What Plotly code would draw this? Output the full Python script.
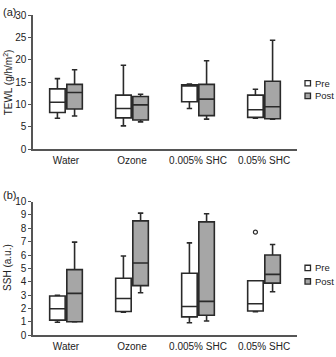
import plotly.graph_objects as go

categories = ["Water", "Ozone", "0.005% SHC", "0.05% SHC"]

# TEWL (g/h/m²): five-number summaries per treatment
tewl_pre_low = [6.9, 5.2, 9.1, 6.9]
tewl_pre_q1 = [8.2, 7.0, 10.6, 7.1]
tewl_pre_med = [10.5, 9.1, 14.3, 8.8]
tewl_pre_q3 = [13.5, 12.1, 14.4, 12.1]
tewl_pre_high = [15.8, 18.8, 14.6, 13.4]

tewl_post_low = [7.4, 6.1, 6.7, 6.7]
tewl_post_q1 = [9.0, 6.5, 7.5, 6.8]
tewl_post_med = [12.7, 9.9, 11.2, 9.5]
tewl_post_q3 = [14.5, 11.8, 14.5, 15.2]
tewl_post_high = [17.8, 12.3, 19.8, 24.4]

# SSH (a.u.)
ssh_pre_low = [0.97, 1.73, 0.94, 1.76]
ssh_pre_q1 = [1.13, 1.78, 1.37, 1.81]
ssh_pre_med = [1.98, 2.75, 2.15, 2.36]
ssh_pre_q3 = [2.94, 4.26, 4.63, 4.07]
ssh_pre_high = [2.99, 5.93, 6.91, 4.07]

ssh_post_low = [1.0, 3.18, 1.06, 3.25]
ssh_post_q1 = [1.01, 3.71, 1.50, 3.90]
ssh_post_med = [3.13, 5.40, 2.53, 4.55]
ssh_post_q3 = [4.91, 8.55, 8.48, 6.0]
ssh_post_high = [6.96, 9.13, 9.08, 6.79]

# outlier in SSH, pre, 0.05% SHC
ssh_outlier_cat = [3]
ssh_outlier_val = [7.71]

tewl_ticks = [0, 5, 10, 15, 20, 25, 30]
ssh_ticks = list(range(0, 11))

series_names = ["Pre", "Post"]

W, H = 336, 357
FONT = "Liberation Sans, Arial, sans-serif"
TXT = "#222222"
LINE = "#2a2a2a"
AXIS = "#555555"
POST_FILL = "#a6a6a6"
fills = ["white", POST_FILL]
OFF = 0.13
BW = 0.235

pos = list(range(len(categories)))

fig = go.Figure()


def add_box(name, q1, med, q3, lo, hi, shift, fill, xa, ya):
    fig.add_trace(go.Box(
        name=name,
        x=[p + shift for p in pos],
        q1=q1, median=med, q3=q3, lowerfence=lo, upperfence=hi,
        width=BW,
        fillcolor=fill,
        line=dict(color=LINE, width=1.6),
        whiskerwidth=0.35,
        boxpoints=False,
        xaxis=xa, yaxis=ya,
        showlegend=False,
        hoverinfo="skip",
    ))


add_box("Pre", tewl_pre_q1, tewl_pre_med, tewl_pre_q3, tewl_pre_low, tewl_pre_high,
        -OFF, fills[0], "x", "y")
add_box("Post", tewl_post_q1, tewl_post_med, tewl_post_q3, tewl_post_low, tewl_post_high,
        OFF, fills[1], "x", "y")
add_box("Pre", ssh_pre_q1, ssh_pre_med, ssh_pre_q3, ssh_pre_low, ssh_pre_high,
        -OFF, fills[0], "x2", "y2")
add_box("Post", ssh_post_q1, ssh_post_med, ssh_post_q3, ssh_post_low, ssh_post_high,
        OFF, fills[1], "x2", "y2")

fig.add_trace(go.Scatter(
    x=[c - OFF for c in ssh_outlier_cat], y=ssh_outlier_val,
    mode="markers",
    marker=dict(symbol="circle-open", size=4, color=LINE, line=dict(width=1.2)),
    xaxis="x2", yaxis="y2", showlegend=False, hoverinfo="skip",
))

xdom = [33 / W, 297 / W]
ydom_a = [1 - 148 / H, 1 - 9.7 / H]
ydom_b = [1 - 340.7 / H, 1 - 202.3 / H]

tick_font = dict(family=FONT, size=10, color=TXT)

xaxis_common = dict(
    domain=xdom, range=[-0.5, 3.5],
    tickvals=pos, ticktext=categories,
    showline=True, linecolor=AXIS, linewidth=1.5,
    ticks="", showgrid=False, zeroline=False,
    tickfont=tick_font, ticklabelstandoff=1,
)
yaxis_common = dict(
    showline=True, linecolor=AXIS, linewidth=1.5,
    ticks="outside", ticklen=3, tickcolor=AXIS, tickwidth=1.2,
    showgrid=False, zeroline=False, tickfont=tick_font,
)

annotations = [
    dict(text="(a)", x=1 / W, y=1 - 6 / H, xanchor="left", yanchor="middle",
         font=dict(family=FONT, size=11, color=TXT)),
    dict(text="(b)", x=1 / W, y=1 - 196 / H, xanchor="left", yanchor="middle",
         font=dict(family=FONT, size=11, color=TXT)),
    dict(text="TEWL (g/h/m<sup>2</sup>)", x=8 / W, y=1 - 79 / H,
         xanchor="center", yanchor="middle", textangle=-90,
         font=dict(family=FONT, size=10, color=TXT)),
    dict(text="SSH (a.u.)", x=8 / W, y=1 - 271 / H,
         xanchor="center", yanchor="middle", textangle=-90,
         font=dict(family=FONT, size=10, color=TXT)),
]

# legend keys: small outlined squares with the series names beside them
shapes = []
key_rows = [[80, 93], [271, 285]]
for rows in key_rows:
    for name, fill, yc in zip(series_names, fills, rows):
        shapes.append(dict(type="rect", xref="paper", yref="paper",
                           x0=305 / W, x1=310.5 / W,
                           y0=1 - (yc + 2.75) / H, y1=1 - (yc - 2.75) / H,
                           fillcolor=fill, line=dict(color=LINE, width=1.3)))
        annotations.append(dict(text=name, x=313 / W, y=1 - yc / H,
                                xanchor="left", yanchor="middle",
                                font=dict(family=FONT, size=9.5, color=TXT)))

for a in annotations:
    a.update(xref="paper", yref="paper", showarrow=False)

fig.update_layout(
    width=W, height=H,
    margin=dict(l=0, r=0, t=0, b=0),
    paper_bgcolor="white", plot_bgcolor="white",
    font=dict(family=FONT, size=10, color=TXT),
    xaxis=dict(**xaxis_common, anchor="y"),
    yaxis=dict(**yaxis_common, domain=ydom_a, range=[0, 30], tickvals=tewl_ticks, anchor="x"),
    xaxis2=dict(**xaxis_common, anchor="y2"),
    yaxis2=dict(**yaxis_common, domain=ydom_b, range=[0, 10], tickvals=ssh_ticks, anchor="x2"),
    showlegend=False,
    annotations=annotations,
    shapes=shapes,
)

fig.write_html("out.html")
